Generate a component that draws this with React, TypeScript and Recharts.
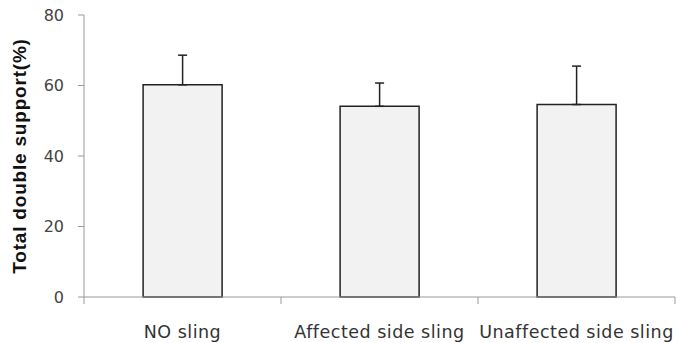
import React from "react";
import { BarChart, Bar, XAxis, YAxis, ErrorBar } from "recharts";

const categories = ["NO sling", "Affected side sling", "Unaffected side sling"];
const means = [60.2, 54.1, 54.6];
const sds = [8.4, 6.6, 10.9];
const yTicks = [0, 20, 40, 60, 80];

const data = categories.map((name, i) => ({
  name,
  value: means[i],
  err: [0, sds[i]],
}));

const CategoryTick = (props: any) => {
  const { x, y, payload, index, visibleTicksCount } = props;
  const half = payload && payload.offset ? payload.offset : 0;
  const last = index === visibleTicksCount - 1;
  return (
    <g>
      <line x1={x - half} y1={y - 8} x2={x - half} y2={y - 1} stroke="#999" />
      {last && (
        <line x1={x + half} y1={y - 8} x2={x + half} y2={y - 1} stroke="#999" />
      )}
      <text
        x={x}
        y={y + 33}
        textAnchor="middle"
        fill="#333"
        fontSize={17.5}
        letterSpacing={0.5}
        fontFamily="DejaVu Sans, sans-serif"
      >
        {payload.value}
      </text>
    </g>
  );
};

export default function App() {
  return (
    <div style={{ position: "absolute", left: 0, top: 0, background: "#fff" }}>
      <BarChart
        width={676}
        height={343}
        data={data}
        margin={{ top: 15, right: 1, bottom: 0, left: 0 }}
        barCategoryGap="30%"
      >
        <XAxis
          dataKey="name"
          stroke="#999"
          tickLine={false}
          height={46}
          tick={<CategoryTick />}
          interval={0}
        />
        <YAxis
          domain={[0, 80]}
          ticks={yTicks}
          width={84}
          stroke="#999"
          tickSize={6}
          tickMargin={14}
          tick={{ fill: "#444", fontSize: 16, fontFamily: "DejaVu Sans, sans-serif" }}
          label={{
            value: "Total double support(%)",
            angle: -90,
            position: "insideLeft",
            dx: 14,
            style: {
              textAnchor: "middle",
              fontWeight: "bold",
              fontSize: 19,
              letterSpacing: 0.8,
              fill: "#111",
              fontFamily: "Liberation Sans, Arial, sans-serif",
            },
          }}
        />
        <Bar
          dataKey="value"
          fill="#f2f2f2"
          stroke="#222"
          strokeWidth={1.5}
          isAnimationActive={false}
        >
          <ErrorBar dataKey="err" width={4.5} stroke="#222" strokeWidth={1.5} />
        </Bar>
      </BarChart>
    </div>
  );
}
